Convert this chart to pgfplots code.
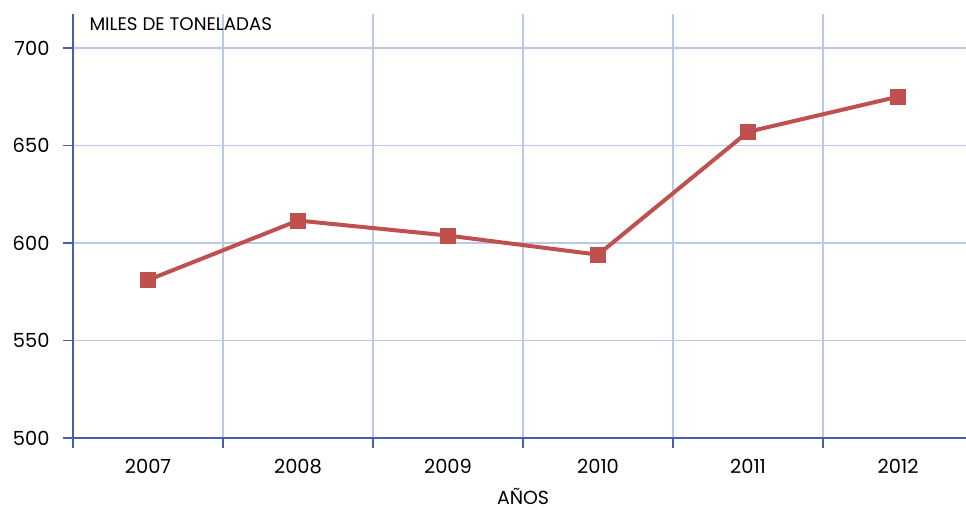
\documentclass[border=0pt]{standalone}
\usepackage{pgfplots}
\pgfplotsset{compat=1.18}
\usepackage{fontspec}
\setmainfont{Poppins}
\definecolor{axblue}{HTML}{4A5DB3}
\definecolor{gridblue}{HTML}{BAC8EA}
\definecolor{linered}{HTML}{C0504D}
\begin{document}
\begin{tikzpicture}[x=1bp,y=1bp]
\useasboundingbox (-73bp,-72bp) rectangle (893bp,438bp);
\begin{axis}[
  at={(0,0)}, anchor=south west,
  scale only axis,
  width=893bp, height=424bp,
  xmin=-0.5, xmax=5.453,
  ymin=500, ymax=717.4,
  axis x line=bottom, axis y line=left,
  axis line style={axblue, line width=1.2bp, -},
  xtick={-0.5,0.5,1.5,2.5,3.5,4.5},
  xticklabels={},
  extra x ticks={0,1,2,3,4,5},
  extra x tick labels={2007,2008,2009,2010,2011,2012},
  extra x tick style={major tick length=0pt, grid=none, tick label style={yshift=-18bp}},
  ytick={500,550,600,650,700},
  tick align=outside,
  major tick length=10bp,
  tick style={axblue, line width=1.2bp},
  xmajorgrids, ymajorgrids,
  grid style={gridblue, line width=1.2bp},
  /pgf/number format/assume math mode=true,
  tick label style={font=\fontsize{19.5}{22}\selectfont, text=black},
  yticklabel style={xshift=-10bp},
  xlabel={AÑOS},
  xlabel style={font=\fontsize{19}{22}\selectfont, at={(axis cs:2.5,500)}, anchor=north, yshift=-47bp},
  clip=false,
]
\addplot[linered, line width=4bp, mark=square*, mark size=7.5bp, mark options={fill=linered, draw=linered, line width=0pt}]
  coordinates {(0,581) (1,611.5) (2,603.8) (3,594) (4,657) (5,675)};
\end{axis}
\node[anchor=west, font=\fontsize{18.3}{21}\selectfont] at (13bp,414bp) {MILES DE TONELADAS};
\end{tikzpicture}
\end{document}
